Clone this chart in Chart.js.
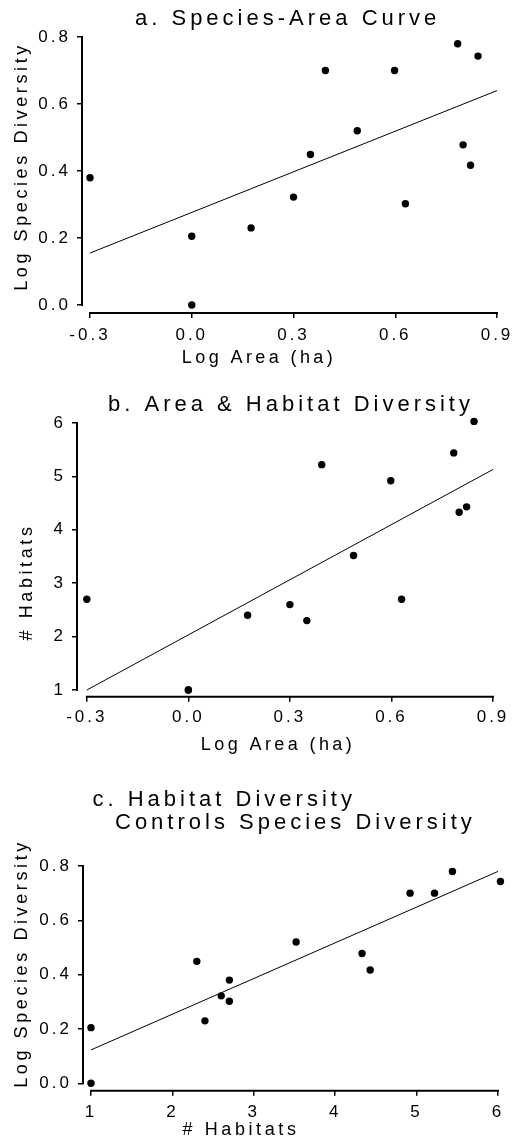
<!DOCTYPE html>
<html lang="en">
<head>
<meta charset="UTF-8">
<title>Island area, habitats and species diversity</title>
<script src="https://cdn.jsdelivr.net/npm/chart.js"></script>
<style>
  html, body { margin: 0; padding: 0; background: #fff; }
  body { width: 531px; height: 1145px; position: relative; overflow: hidden; }
  canvas { position: absolute; left: 0; }
</style>
</head>
<body>
<canvas id="chartA" width="531" height="372" style="top:0px"></canvas>
<canvas id="chartB" width="531" height="388" style="top:372px"></canvas>
<canvas id="chartC" width="531" height="385" style="top:760px"></canvas>
<script>
// one value per island, same order in every array
const logArea    = [-0.30, 0.00, 0.00, 0.175, 0.30, 0.35, 0.394, 0.488, 0.598, 0.63, 0.784, 0.80, 0.822, 0.844];
const logSpecies = [0.38, 0.205, 0.00, 0.23, 0.322, 0.449, 0.70, 0.52, 0.70, 0.302, 0.78, 0.478, 0.417, 0.743];
const habitats   = [2.7, 1.0, 1.0, 2.4, 2.6, 2.3, 5.22, 3.52, 4.92, 2.7, 5.44, 4.33, 4.43, 6.03];

// fitted lines at both ends
const fitAreaX          = [-0.3, 0.9];
const fitSpeciesOnArea  = [0.155, 0.64];
const fitHabitatsOnArea = [1.0, 5.13];
const fitHabX           = [1, 6];
const fitSpeciesOnHab   = [0.123, 0.78];

// tick values
const areaTicks    = [-0.3, 0.0, 0.3, 0.6, 0.9];
const speciesTicks = [0.0, 0.2, 0.4, 0.6, 0.8];
const habitatTicks = [1, 2, 3, 4, 5, 6];

const FONT = '"Liberation Sans", Arial, Helvetica, sans-serif';

function pairs(xs, ys) {
  return xs.map((x, i) => ({ x: x, y: ys[i] }));
}

function axis(min, max, ticks, fmt, pad, fit) {
  return {
    type: 'linear',
    min: min,
    max: max,
    afterBuildTicks: s => { s.ticks = ticks.map(v => ({ value: v })); },
    afterFit: fit,
    border: { display: false },
    grid: { display: true, drawOnChartArea: false, drawTicks: true, tickLength: 5, color: '#000', lineWidth: 1.5 },
    ticks: {
      autoSkip: false, maxRotation: 0, minRotation: 0, padding: pad,
      color: '#000', font: { family: FONT, size: 17 },
      callback: fmt
    }
  };
}

// range-frame axes and the free-standing texts
function framePlugin(texts) {
  return {
    id: 'frame',
    beforeDraw(chart) { chart.ctx.letterSpacing = '3px'; },
    afterDraw(chart) {
      const { ctx, chartArea, scales } = chart;
      const x = scales.x, y = scales.y;
      const xt = x.ticks, yt = y.ticks;
      ctx.save();
      ctx.strokeStyle = '#000';
      ctx.lineWidth = 2;
      ctx.beginPath();
      ctx.moveTo(x.getPixelForValue(xt[0].value) - 1, chartArea.bottom);
      ctx.lineTo(x.getPixelForValue(xt[xt.length - 1].value) + 1, chartArea.bottom);
      ctx.moveTo(chartArea.left, y.getPixelForValue(yt[0].value) + 1);
      ctx.lineTo(chartArea.left, y.getPixelForValue(yt[yt.length - 1].value) - 1);
      ctx.stroke();
      ctx.fillStyle = '#000';
      texts.forEach(t => {
        ctx.save();
        ctx.font = t.size + 'px ' + FONT;
        ctx.letterSpacing = t.spacing + 'px';
        ctx.textAlign = t.align;
        ctx.textBaseline = 'alphabetic';
        ctx.translate(t.x, t.y);
        if (t.rotate) ctx.rotate(-Math.PI / 2);
        ctx.fillText(t.text, 0, 0);
        ctx.restore();
      });
      ctx.restore();
    }
  };
}

function makePanel(id, p) {
  const h = document.getElementById(id).height;
  return new Chart(document.getElementById(id), {
    type: 'scatter',
    data: {
      datasets: [
        {
          data: p.points,
          backgroundColor: '#000', borderWidth: 0,
          pointRadius: 3.7, pointHoverRadius: 3.7, clip: false
        },
        {
          data: p.fit, showLine: true,
          borderColor: '#000', borderWidth: 1,
          pointRadius: 0, pointHoverRadius: 0, clip: false
        }
      ]
    },
    options: {
      responsive: false,
      animation: false,
      events: [],
      devicePixelRatio: 1,
      layout: { padding: { left: 0, top: p.area.top, right: 531 - p.area.right, bottom: 0 } },
      plugins: { legend: { display: false }, tooltip: { enabled: false } },
      scales: {
        x: axis(p.x.min, p.x.max, p.x.ticks, p.x.fmt, p.x.pad, s => { s.height = h - p.area.bottom; }),
        y: axis(p.y.min, p.y.max, p.y.ticks, p.y.fmt, 6, s => { s.width = p.area.left; })
      }
    },
    plugins: [framePlugin(p.texts)]
  });
}

const oneDecimal = v => v.toFixed(1);
const whole = v => String(v);

makePanel('chartA', {
  points: pairs(logArea, logSpecies),
  fit: pairs(fitAreaX, fitSpeciesOnArea),
  area: { left: 82, right: 497, top: 37, bottom: 313 },
  x: { min: -0.3236, max: 0.9, ticks: areaTicks, fmt: oneDecimal, pad: 7 },
  y: { min: -0.024, max: 0.8, ticks: speciesTicks, fmt: oneDecimal },
  texts: [
    { text: 'a. Species-Area Curve', x: 135, y: 25, size: 22, spacing: 4, align: 'left' },
    { text: 'Log Species Diversity', x: 26.7, y: 166.5, size: 18, spacing: 3.6, align: 'center', rotate: true },
    { text: 'Log Area (ha)', x: 259, y: 363.3, size: 18, spacing: 3.4, align: 'center' }
  ]
});

makePanel('chartB', {
  points: pairs(logArea, habitats),
  fit: pairs(fitAreaX, fitHabitatsOnArea),
  area: { left: 77, right: 493, top: 51, bottom: 324.7 },
  x: { min: -0.329, max: 0.9, ticks: areaTicks, fmt: oneDecimal, pad: 5 },
  y: { min: 0.875, max: 6, ticks: habitatTicks, fmt: whole },
  texts: [
    { text: 'b. Area & Habitat Diversity', x: 108, y: 39, size: 22, spacing: 4, align: 'left' },
    { text: '# Habitats', x: 31.7, y: 210, size: 18, spacing: 3.6, align: 'center', rotate: true },
    { text: 'Log Area (ha)', x: 278, y: 378, size: 18, spacing: 3.4, align: 'center' }
  ]
});

makePanel('chartC', {
  points: pairs(habitats, logSpecies),
  fit: pairs(fitHabX, fitSpeciesOnHab),
  area: { left: 83, right: 498, top: 106, bottom: 330.7 },
  x: { min: 0.902, max: 6, ticks: habitatTicks, fmt: whole, pad: 6 },
  y: { min: -0.0272, max: 0.8, ticks: speciesTicks, fmt: oneDecimal },
  texts: [
    { text: 'c. Habitat Diversity', x: 92.5, y: 46, size: 22, spacing: 4, align: 'left' },
    { text: 'Controls Species Diversity', x: 115, y: 68.5, size: 22, spacing: 4, align: 'left' },
    { text: 'Log Species Diversity', x: 26.7, y: 203.5, size: 18, spacing: 3.6, align: 'center', rotate: true },
    { text: '# Habitats', x: 241, y: 375, size: 18, spacing: 3.6, align: 'center' }
  ]
});
</script>
</body>
</html>
